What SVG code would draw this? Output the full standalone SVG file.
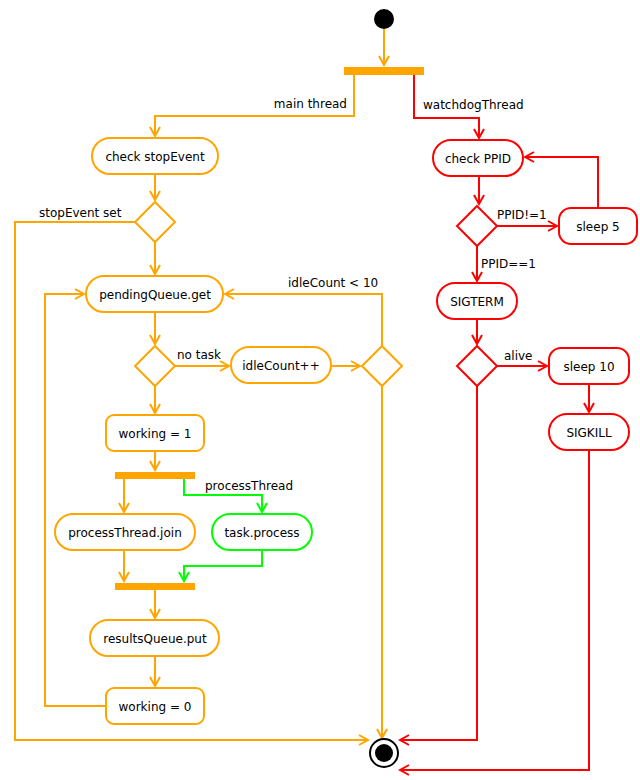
<svg xmlns="http://www.w3.org/2000/svg" width="640" height="780" viewBox="0 0 640 780">
<style>
text{font-family:"DejaVu Sans",sans-serif;font-size:12px;fill:#000}
.o{fill:#fff;stroke:#FFA500;stroke-width:2}
.r{fill:#fff;stroke:#FF0000;stroke-width:2}
.g{fill:#fff;stroke:#00FF00;stroke-width:2}
.lo{fill:none;stroke:#FFA500;stroke-width:2}
.lr{fill:none;stroke:#FF0000;stroke-width:2}
.lg{fill:none;stroke:#00FF00;stroke-width:2}
.c{text-anchor:middle}
</style>
<defs>
<marker id="ao" markerWidth="12" markerHeight="12" refX="10" refY="6" orient="auto" markerUnits="userSpaceOnUse"><path d="M1,1 L10,6 L1,11" fill="none" stroke="#FFA500" stroke-width="2"/></marker>
<marker id="ar" markerWidth="12" markerHeight="12" refX="10" refY="6" orient="auto" markerUnits="userSpaceOnUse"><path d="M1,1 L10,6 L1,11" fill="none" stroke="#FF0000" stroke-width="2"/></marker>
<marker id="ag" markerWidth="12" markerHeight="12" refX="10" refY="6" orient="auto" markerUnits="userSpaceOnUse"><path d="M1,1 L10,6 L1,11" fill="none" stroke="#00FF00" stroke-width="2"/></marker>
</defs>
<g id="connectors">
<path class="lo" d="M384,29 V65" marker-end="url(#ao)"/>
<path class="lo" d="M354,75 V116 H155 V136" marker-end="url(#ao)"/>
<path class="lr" d="M414,75 V118 H479 V138" marker-end="url(#ar)"/>
<path class="lo" d="M155,174 V200" marker-end="url(#ao)"/>
<path class="lo" d="M135,222 H15 V740 H368" marker-end="url(#ao)"/>
<path class="lo" d="M155,242 V274" marker-end="url(#ao)"/>
<path class="lo" d="M155,312 V344" marker-end="url(#ao)"/>
<path class="lo" d="M175,366 H229" marker-end="url(#ao)"/>
<path class="lo" d="M331,366 H360" marker-end="url(#ao)"/>
<path class="lo" d="M382,346 V294 H225" marker-end="url(#ao)"/>
<path class="lo" d="M382,386 V738" marker-end="url(#ao)"/>
<path class="lo" d="M155,386 V413" marker-end="url(#ao)"/>
<path class="lo" d="M155,451 V470" marker-end="url(#ao)"/>
<path class="lo" d="M124,479 V512" marker-end="url(#ao)"/>
<path class="lg" d="M184,479 V495 H262 V512" marker-end="url(#ag)"/>
<path class="lo" d="M124,550 V581" marker-end="url(#ao)"/>
<path class="lg" d="M262,550 V566 H184 V581" marker-end="url(#ag)"/>
<path class="lo" d="M155,590 V618" marker-end="url(#ao)"/>
<path class="lo" d="M155,656 V686" marker-end="url(#ao)"/>
<path class="lo" d="M106,706 H45 V294 H84" marker-end="url(#ao)"/>
<path class="lr" d="M479,176 V204" marker-end="url(#ar)"/>
<path class="lr" d="M497,226 H557" marker-end="url(#ar)"/>
<path class="lr" d="M598,208 V157 H525" marker-end="url(#ar)"/>
<path class="lr" d="M477,246 V281" marker-end="url(#ar)"/>
<path class="lr" d="M477,319 V344" marker-end="url(#ar)"/>
<path class="lr" d="M497,366 H547" marker-end="url(#ar)"/>
<path class="lr" d="M589,384 V412" marker-end="url(#ar)"/>
<path class="lr" d="M477,386 V740 H400" marker-end="url(#ar)"/>
<path class="lr" d="M589,450 V770 H400" marker-end="url(#ar)"/>
<text x="347" y="108" text-anchor="end">main thread</text>
<text x="423" y="109">watchdogThread</text>
<text x="39" y="217">stopEvent set</text>
<text x="177" y="359">no task</text>
<text x="288" y="287">idleCount &lt; 10</text>
<text x="205" y="490">processThread</text>
<text x="497" y="219">PPID!=1</text>
<text x="481" y="268">PPID==1</text>
<text x="504" y="360">alive</text>
</g>
<g id="start"><circle cx="384" cy="19" r="10" fill="#000"/></g>
<g id="fork1"><rect x="344" y="67" width="80" height="8" fill="#FFA500"/></g>
<g id="checkStop"><rect class="o" x="92" y="138" width="126" height="36" rx="18"/><text class="c" x="155" y="161">check stopEvent</text></g>
<g id="d1"><path class="o" d="M155,202 L175,222 L155,242 L135,222Z"/></g>
<g id="pending"><rect class="o" x="86" y="276" width="137" height="36" rx="18"/><text class="c" x="155" y="299">pendingQueue.get</text></g>
<g id="d2"><path class="o" d="M155,346 L175,366 L155,386 L135,366Z"/></g>
<g id="idle"><rect class="o" x="231" y="347" width="100" height="36" rx="18"/><text class="c" x="281" y="370">idleCount++</text></g>
<g id="d3"><path class="o" d="M382,346 L402,366 L382,386 L362,366Z"/></g>
<g id="w1"><rect class="o" x="106" y="415" width="98" height="36" rx="8"/><text class="c" x="155" y="438">working = 1</text></g>
<g id="fork2"><rect x="115" y="472" width="80" height="7" fill="#FFA500"/></g>
<g id="join"><rect class="o" x="55" y="514" width="140" height="36" rx="18"/><text class="c" x="125" y="537">processThread.join</text></g>
<g id="task"><rect class="g" x="212" y="514" width="100" height="36" rx="18"/><text class="c" x="262" y="537">task.process</text></g>
<g id="join2"><rect x="115" y="583" width="80" height="7" fill="#FFA500"/></g>
<g id="results"><rect class="o" x="90" y="620" width="129" height="36" rx="18"/><text class="c" x="155" y="643">resultsQueue.put</text></g>
<g id="w0"><rect class="o" x="106" y="688" width="98" height="36" rx="8"/><text class="c" x="155" y="711">working = 0</text></g>
<g id="ppid"><rect class="r" x="433" y="140" width="90" height="36" rx="18"/><text class="c" x="478" y="163">check PPID</text></g>
<g id="d4"><path class="r" d="M477,206 L497,226 L477,246 L457,226Z"/></g>
<g id="sleep5"><rect class="r" x="559" y="208" width="78" height="36" rx="12"/><text class="c" x="598" y="231">sleep 5</text></g>
<g id="sigterm"><rect class="r" x="437" y="283" width="80" height="36" rx="18"/><text class="c" x="477" y="306">SIGTERM</text></g>
<g id="d5"><path class="r" d="M477,346 L497,366 L477,386 L457,366Z"/></g>
<g id="sleep10"><rect class="r" x="549" y="348" width="80" height="36" rx="12"/><text class="c" x="589" y="371">sleep 10</text></g>
<g id="sigkill"><rect class="r" x="549" y="414" width="80" height="36" rx="18"/><text class="c" x="589" y="437">SIGKILL</text></g>
<g id="end"><circle cx="384" cy="753" r="14" fill="#fff" stroke="#000" stroke-width="2"/><circle cx="384" cy="753" r="9" fill="#000"/></g>
</svg>
